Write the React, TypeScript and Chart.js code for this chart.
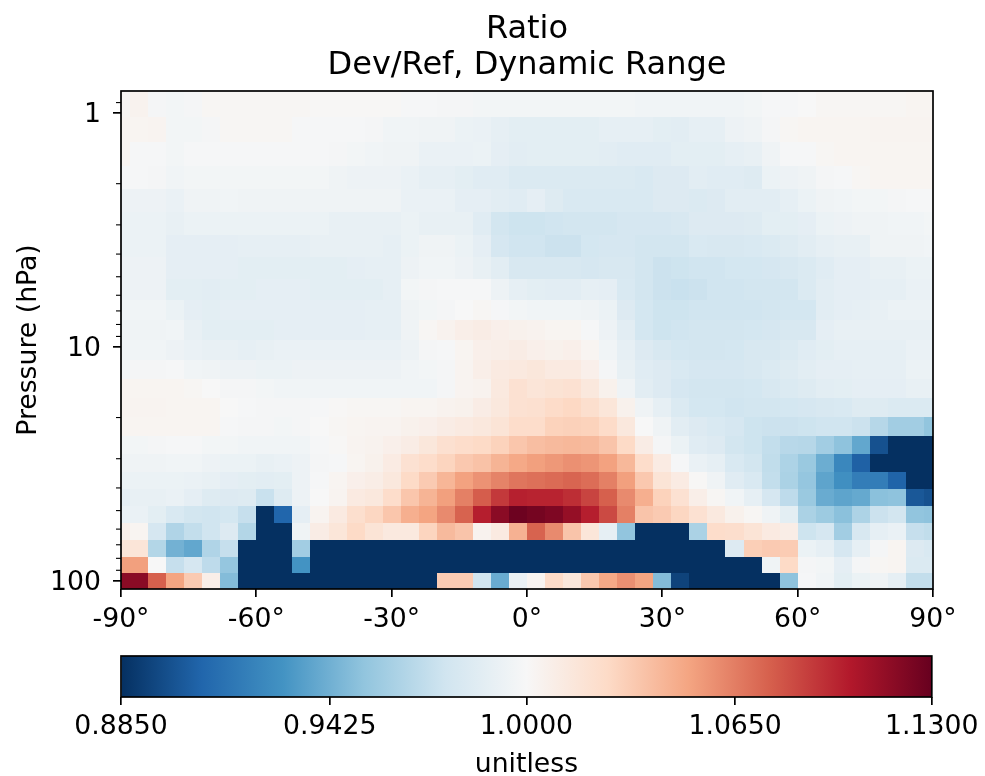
import React, { useEffect, useRef } from "react";
import { Chart, registerables } from "chart.js";

Chart.register(...registerables);

const FONT = "'DejaVu Sans'";
const titleLines = ["Ratio", "Dev/Ref, Dynamic Range"];
const yTitle = "Pressure (hPa)";
const cbTitle = "unitless";
const latCenters = [-90,-86,-82,-78,-74,-70,-66,-62,-58,-54,-50,-46,-42,-38,-34,-30,-26,-22,-18,-14,-10,-6,-2,2,6,10,14,18,22,26,30,34,38,42,46,50,54,58,62,66,70,74,78,82,86,90];
const latTicks = [-90,-60,-30,0,30,60,90];
const pressureMajor = [1,10,100];
const pressureMinor = [0.9,2,3,4,5,6,7,8,9,20,30,40,50,60,70,80,90];
const pressureEdges = [0.803,1.035,1.324,1.676,2.112,2.649,3.321,4.125,5.12,6.30,7.66,9.33,11.36,13.70,16.51,19.91,23.89,28.66,34.05,40.44,47.81,56.51,66.80,78.97,92.43,108.2];
const cbTicks = ["0.8850","0.9425","1.0000","1.0650","1.1300"];
const cbTickPositions = [0,0.2574,0.5,0.7574,1];
const cbRange = [0.885,1.0,1.13];
const rdBuR = ["#053061","#2166ac","#4393c3","#92c5de","#d1e5f0","#f7f7f7","#fddbc7","#f4a582","#d6604d","#b2182b","#67001f"];

const r00 = [1.002,1.005,.998,.997,.998,1.002,1.002,1.002,1.002,1.002,1.002,1.001,1.001,1.001,1.001,1.001,.999,.999,.998,.998,.997,.997,.997,.997,.997,.997,.997,.997,.997,.996,.996,.996,.996,.996,.996,.997,.999,.999,1.0,1.002,1.002,1.002,1.002,1.002,1.003,1.003];
const r01 = [1.003,1.003,1.004,.997,.997,.998,1.002,1.002,1.002,1.002,.999,.999,.999,.999,.998,.996,.996,.995,.995,.993,.992,.990,.988,.988,.988,.988,.988,.990,.990,.990,.988,.987,.990,.990,.994,.995,.998,1.002,1.003,1.003,1.003,1.003,1.004,1.004,1.004,1.004];
const r02 = [1.003,.999,.999,.997,.999,.999,.999,.999,.999,.999,.999,.999,.998,.997,.996,.995,.995,.992,.992,.992,.993,.989,.987,.988,.988,.988,.988,.987,.986,.986,.986,.988,.988,.988,.990,.991,.995,.999,.999,1.002,1.003,1.003,1.003,1.003,1.003,1.003];
const r03 = [.999,.999,.998,.996,.997,.997,.997,.997,.997,.997,.997,.997,.995,.994,.994,.994,.992,.990,.990,.988,.986,.986,.983,.983,.983,.983,.983,.983,.983,.982,.984,.984,.987,.986,.986,.985,.993,.994,.995,.998,.999,1.002,1.003,1.003,1.003,1.003];
const r04 = [.994,.994,.994,.992,.995,.995,.996,.995,.995,.995,.995,.995,.995,.995,.995,.995,.992,.992,.992,.989,.989,.987,.986,.989,.985,.982,.982,.982,.982,.982,.984,.984,.983,.984,.987,.987,.987,.990,.993,.995,.996,.997,.997,.998,.999,.999];
const r05 = [.993,.993,.993,.991,.993,.993,.993,.993,.993,.993,.993,.993,.991,.991,.991,.991,.993,.991,.991,.991,.986,.978,.976,.976,.977,.978,.978,.978,.980,.980,.980,.981,.984,.984,.984,.985,.988,.988,.989,.993,.994,.995,.995,.996,.996,.997];
const r06 = [.993,.993,.993,.989,.989,.989,.989,.990,.990,.990,.990,.991,.991,.991,.991,.990,.993,.995,.995,.993,.989,.980,.977,.977,.975,.975,.979,.980,.980,.978,.978,.978,.982,.981,.981,.982,.983,.985,.987,.990,.991,.991,.995,.995,.995,.996];
const r07 = [.994,.994,.994,.989,.989,.989,.989,.988,.988,.988,.988,.988,.988,.989,.990,.990,.994,.996,.996,.994,.991,.987,.981,.981,.981,.981,.980,.981,.981,.978,.975,.976,.977,.977,.979,.979,.980,.981,.983,.986,.989,.989,.991,.991,.993,.993];
const r08 = [.994,.994,.994,.988,.988,.987,.988,.988,.989,.989,.989,.988,.988,.988,.988,.990,.997,.998,.999,.999,.999,.994,.990,.988,.987,.987,.990,.989,.982,.978,.975,.974,.975,.977,.977,.978,.978,.978,.983,.987,.989,.989,.990,.990,.992,.992];
const r09 = [.996,.996,.996,.993,.989,.988,.989,.989,.989,.989,.989,.989,.989,.989,.990,.990,.995,.997,.998,1.0,1.002,.999,.997,.996,.996,.996,.995,.993,.984,.979,.976,.976,.977,.977,.977,.977,.978,.979,.979,.987,.989,.990,.991,.993,.993,.993];
const r10 = [.995,.995,.995,.996,.991,.988,.988,.988,.988,.989,.989,.989,.989,.989,.990,.990,.995,1.002,1.005,1.008,1.010,1.007,1.006,1.005,1.003,1.003,.999,.994,.987,.979,.976,.977,.978,.978,.978,.979,.980,.981,.981,.989,.991,.991,.991,.991,.991,.991];
const r11 = [.996,.996,.996,.994,.992,.991,.991,.990,.991,.992,.992,.992,.992,.992,.992,.992,.994,.998,.999,1.003,1.007,1.008,1.010,1.007,1.006,1.007,1.003,.996,.990,.984,.981,.979,.978,.978,.979,.981,.981,.983,.986,.988,.990,.990,.990,.990,.992,.992];
const r12 = [.997,.998,.998,.999,.996,.995,.994,.994,.993,.993,.994,.994,.994,.994,.994,.994,.996,.997,.998,1.004,1.008,1.012,1.013,1.015,1.012,1.012,1.007,.998,.991,.986,.984,.982,.980,.980,.980,.981,.983,.985,.987,.989,.989,.990,.990,.990,.993,.993];
const r13 = [1.004,1.003,1.003,1.003,1.002,1.0,.998,.998,.997,.996,.996,.996,.996,.996,.996,.996,.996,.996,.998,1.004,1.005,1.013,1.02,1.017,1.019,1.02,1.014,1.006,.995,.987,.984,.980,.978,.978,.978,.979,.981,.983,.985,.987,.988,.989,.989,.989,.991,.991];
const r14 = [1.004,1.004,1.004,1.003,1.003,1.003,1.0,.999,.998,.998,.998,.999,1.001,1.002,1.002,1.002,1.003,1.003,1.005,1.006,1.01,1.014,1.02,1.021,1.025,1.027,1.022,1.016,1.006,.995,.990,.983,.979,.979,.977,.978,.978,.979,.980,.981,.982,.985,.985,.983,.983,.983];
const r15 = [1.003,1.003,1.003,1.003,1.003,1.003,.999,.998,.998,.997,.998,1.0,1.002,1.003,1.004,1.004,1.006,1.007,1.01,1.012,1.014,1.018,1.024,1.024,1.03,1.031,1.03,1.025,1.014,1.0,.995,.987,.984,.982,.980,.976,.975,.975,.976,.977,.977,.975,.967,.96,.96,.954];
const r16 = [.997,.997,.998,.999,.999,.997,.997,.996,.996,.996,.996,.999,1.001,1.004,1.005,1.007,1.01,1.015,1.021,1.024,1.026,1.03,1.036,1.04,1.042,1.043,1.042,1.037,1.026,1.01,.998,.993,.986,.984,.978,.976,.972,.968,.967,.96,.953,.94,.899,.87,.87,.87];
const r17 = [.995,.995,.995,.996,.996,.994,.993,.993,.991,.992,.994,.998,.999,1.003,1.006,1.011,1.02,1.024,1.029,1.035,1.038,1.045,1.05,1.054,1.057,1.06,1.058,1.053,1.043,1.024,1.011,.999,.992,.99,.982,.978,.971,.964,.957,.943,.925,.906,.87,.87,.87,.87];
const r18 = [.993,.993,.993,.993,.992,.991,.989,.988,.987,.988,.994,.999,1.003,1.007,1.009,1.014,1.026,1.034,1.044,1.053,1.059,1.065,1.07,1.072,1.074,1.076,1.073,1.066,1.054,1.035,1.018,1.011,1.001,.995,.986,.982,.972,.963,.955,.939,.929,.92,.92,.907,.87,.87];
const r19 = [.989,.991,.991,.992,.989,.985,.984,.985,.974,.985,.994,1.0,1.004,1.012,1.014,1.024,1.036,1.045,1.054,1.066,1.079,1.092,1.101,1.1,1.1,1.096,1.088,1.078,1.062,1.047,1.03,1.02,1.008,1.002,.996,.99,.98,.97,.957,.942,.939,.941,.952,.953,.902,.899];
const r20 = [.992,.992,.988,.982,.978,.977,.979,.973,.87,.908,.989,1.004,1.012,1.022,1.028,1.036,1.047,1.052,1.062,1.077,1.102,1.118,1.128,1.125,1.122,1.114,1.102,1.086,1.066,1.037,1.034,1.028,1.02,1.013,1.006,1.002,.995,.988,.963,.958,.952,.964,.975,.978,.954,.953];
const r21 = [1.007,1.003,.98,.965,.972,.977,.984,.966,.87,.87,.995,1.01,1.016,1.026,1.018,1.013,1.013,1.029,1.042,1.037,1.005,1.012,1.046,1.077,1.062,1.037,1.016,.99,.954,.87,.87,.87,.963,1.024,1.023,1.018,1.012,1.009,.976,.98,.96,.981,.99,.992,.973,.971];
const r22 = [1.017,1.017,.966,.945,.94,.965,.973,.87,.87,.87,.96,.87,.87,.87,.87,.87,.87,.87,.87,.87,.87,.87,.87,.87,.87,.87,.87,.87,.87,.87,.87,.87,.87,.87,.984,1.032,1.034,1.033,.993,.99,.98,.99,.998,1.003,.984,.982];
const r23 = [1.054,1.054,1.0,.973,.98,.97,.955,.87,.87,.87,.931,.87,.87,.87,.87,.87,.87,.87,.87,.87,.87,.87,.87,.87,.87,.87,.87,.87,.87,.87,.87,.87,.87,.87,.87,.87,.995,1.026,.998,.997,.989,.998,1.002,1.003,.983,.983];
const r24 = [1.118,1.118,1.078,1.052,1.034,1.008,.95,.87,.87,.87,.87,.87,.87,.87,.87,.87,.87,.87,1.033,1.033,.977,.942,.992,1.003,1.025,1.015,1.035,1.05,1.06,1.052,.95,.893,.87,.87,.87,.87,.87,.953,.999,.996,.988,.993,.995,.99,.972,.972];
const rows = [r00,r01,r02,r03,r04,r05,r06,r07,r08,r09,r10,r11,r12,r13,r14,r15,r16,r17,r18,r19,r20,r21,r22,r23,r24];

function hexRgb(h: string) {
  return [1, 3, 5].map((i) => parseInt(h.slice(i, i + 2), 16));
}
function norm(v: number) {
  const [lo, mid, hi] = cbRange;
  if (v <= mid) return Math.max(0, ((v - lo) / (mid - lo)) * 0.5);
  return Math.min(1, 0.5 + ((v - mid) / (hi - mid)) * 0.5);
}
function colour(v: number) {
  const u = norm(v) * (rdBuR.length - 1);
  const i = Math.min(Math.floor(u), rdBuR.length - 2);
  const f = u - i;
  const a = hexRgb(rdBuR[i]);
  const b = hexRgb(rdBuR[i + 1]);
  const c = a.map((x, k) => Math.round(x + (b[k] - x) * f));
  return `rgb(${c[0]},${c[1]},${c[2]})`;
}

const cells = rows.flatMap((row, r) =>
  row.map((v, c) => ({
    x: latCenters[c],
    y: Math.sqrt(pressureEdges[r] * pressureEdges[r + 1]),
    v,
    r,
    c,
  }))
);

const heatmapPlugin = {
  id: "heatmap",
  beforeDatasetsDraw(chart: any) {
    const { ctx, chartArea: a, scales } = chart;
    ctx.save();
    ctx.beginPath();
    ctx.rect(a.left, a.top, a.right - a.left, a.bottom - a.top);
    ctx.clip();
    for (const cell of chart.data.datasets[0].data) {
      const x0 = Math.round(scales.x.getPixelForValue(cell.x - 2));
      const x1 = Math.round(scales.x.getPixelForValue(cell.x + 2));
      const y0 = Math.round(scales.y.getPixelForValue(pressureEdges[cell.r]));
      const y1 = Math.round(scales.y.getPixelForValue(pressureEdges[cell.r + 1]));
      ctx.fillStyle = colour(cell.v);
      ctx.fillRect(x0, y0, x1 - x0, y1 - y0);
    }
    ctx.restore();
  },
  afterDraw(chart: any) {
    const { ctx, chartArea: a, scales } = chart;
    ctx.save();
    ctx.strokeStyle = "#000";
    ctx.lineWidth = 1.1;
    for (const p of pressureMinor) {
      const y = scales.y.getPixelForValue(p);
      ctx.beginPath();
      ctx.moveTo(a.left, y);
      ctx.lineTo(a.left - 5, y);
      ctx.stroke();
    }
    ctx.lineWidth = 1.7;
    ctx.strokeRect(a.left, a.top, a.right - a.left, a.bottom - a.top);
    ctx.restore();
  },
};

const boxPlugin = {
  id: "cbBox",
  afterDraw(chart: any) {
    const { ctx, chartArea: a } = chart;
    ctx.save();
    ctx.strokeStyle = "#000";
    ctx.lineWidth = 1.7;
    ctx.strokeRect(a.left, a.top, a.right - a.left, a.bottom - a.top);
    ctx.restore();
  },
};

export default function App() {
  const mainRef = useRef<HTMLCanvasElement>(null);
  const barRef = useRef<HTMLCanvasElement>(null);

  useEffect(() => {
    const main = new Chart(mainRef.current!, {
      type: "scatter",
      data: { datasets: [{ data: cells as any, pointRadius: 0, showLine: false }] },
      plugins: [heatmapPlugin],
      options: {
        animation: false,
        responsive: false,
        layout: { padding: { top: 12, right: 52, bottom: 0, left: 0 } },
        plugins: {
          legend: { display: false },
          tooltip: { enabled: false },
          title: {
            display: true,
            text: titleLines,
            fullSize: false,
            color: "#000",
            font: { family: FONT, size: 32, weight: "normal", lineHeight: 1.125 },
            padding: { top: 0, bottom: 7 },
          },
        },
        scales: {
          x: {
            type: "linear",
            min: -90,
            max: 90,
            afterBuildTicks: (s: any) => {
              s.ticks = latTicks.map((value) => ({ value }));
            },
            afterFit: (s: any) => {
              s.height = 51;
            },
            ticks: {
              callback: (v: any) => `${v}°`,
              color: "#000",
              font: { family: FONT, size: 26.7 },
              maxRotation: 0,
              padding: 7.5,
            },
            grid: { drawOnChartArea: false, drawTicks: true, tickLength: 8, color: "#000", lineWidth: 1.7 },
            border: { display: false },
          },
          y: {
            type: "logarithmic",
            reverse: true,
            bounds: "data",
            min: pressureEdges[0],
            max: pressureEdges[pressureEdges.length - 1],
            afterBuildTicks: (s: any) => {
              s.ticks = pressureMajor.map((value) => ({ value, major: true }));
            },
            afterFit: (s: any) => {
              s.width = 121;
            },
            ticks: {
              autoSkip: false,
              callback: (v: any) => String(v),
              color: "#000",
              font: { family: FONT, size: 26.7 },
              padding: 12,
              labelOffset: 2,
            },
            title: {
              display: true,
              text: yTitle,
              color: "#000",
              font: { family: FONT, size: 26.7 },
              padding: { top: 13, bottom: 0 },
            },
            grid: { drawOnChartArea: false, drawTicks: true, tickLength: 8, color: "#000", lineWidth: 1.7 },
            border: { display: false },
          },
        },
      } as any,
    });

    let gradient: CanvasGradient | null = null;
    const bar = new Chart(barRef.current!, {
      type: "bar",
      data: {
        labels: ["scale"],
        datasets: [
          {
            data: [[0, 1]] as any,
            barPercentage: 1,
            categoryPercentage: 1,
            backgroundColor: (c: any) => {
              const a = c.chart.chartArea;
              if (!a) return "#fff";
              if (!gradient) {
                gradient = c.chart.ctx.createLinearGradient(a.left, 0, a.right, 0);
                rdBuR.forEach((col, i) => gradient!.addColorStop(i / (rdBuR.length - 1), col));
              }
              return gradient;
            },
          },
        ],
      },
      plugins: [boxPlugin],
      options: {
        animation: false,
        responsive: false,
        indexAxis: "y",
        layout: { padding: { top: 16, right: 52, bottom: 0, left: 121 } },
        plugins: { legend: { display: false }, tooltip: { enabled: false }, title: { display: false } },
        scales: {
          y: { display: false },
          x: {
            type: "linear",
            min: 0,
            max: 1,
            afterBuildTicks: (s: any) => {
              s.ticks = cbTickPositions.map((value) => ({ value }));
            },
            afterFit: (s: any) => {
              s.height = 79;
            },
            ticks: {
              callback: (v: any) => cbTicks[cbTickPositions.indexOf(v)],
              color: "#000",
              font: { family: FONT, size: 26.7 },
              maxRotation: 0,
              autoSkip: false,
              padding: 6.5,
            },
            title: {
              display: true,
              text: cbTitle,
              color: "#000",
              font: { family: FONT, size: 26.7 },
              padding: { top: 0, bottom: -5 },
            },
            grid: { drawOnChartArea: false, drawTicks: true, tickLength: 8, color: "#000", lineWidth: 1.7 },
            border: { display: false },
          },
        },
      } as any,
    });

    return () => {
      main.destroy();
      bar.destroy();
    };
  }, []);

  return (
    <div style={{ position: "absolute", left: 0, top: 0, width: 985, height: 776, background: "#fff", overflow: "hidden" }}>
      <canvas ref={mainRef} width={985} height={640} style={{ position: "absolute", left: 0, top: 0, display: "block" }} />
      <canvas ref={barRef} width={985} height={136} style={{ position: "absolute", left: 0, top: 640, display: "block" }} />
    </div>
  );
}
